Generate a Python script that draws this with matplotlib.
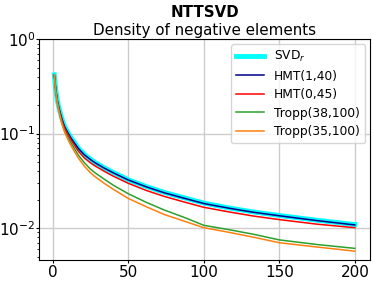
import numpy as np
import matplotlib
matplotlib.use("Agg")
import matplotlib.pyplot as plt

# values at these x positions
x = [1, 2, 3, 4, 5, 6, 7, 8, 10, 12, 14, 17, 21, 25, 28, 34, 40, 50, 62,
     74, 88, 100, 117, 133, 150, 175, 200]

svd_r = [0.42, 0.29, 0.225, 0.19, 0.165, 0.145, 0.13, 0.118, 0.103, 0.091,
         0.082, 0.070, 0.060, 0.0535, 0.0495, 0.0435, 0.0388, 0.0325, 0.0275,
         0.0238, 0.0207, 0.0184, 0.0163, 0.0148, 0.0136, 0.0121, 0.0109]
hmt_1_40 = [0.42, 0.29, 0.224, 0.189, 0.164, 0.144, 0.129, 0.117, 0.102,
            0.090, 0.081, 0.0695, 0.0595, 0.0531, 0.0491, 0.0432, 0.0385,
            0.0323, 0.0273, 0.0236, 0.0205, 0.0182, 0.0162, 0.0147, 0.0135,
            0.0120, 0.0108]
hmt_0_45 = [0.42, 0.288, 0.222, 0.186, 0.16, 0.140, 0.125, 0.113, 0.098,
            0.086, 0.077, 0.065, 0.055, 0.049, 0.0455, 0.040, 0.0355,
            0.0298, 0.0250, 0.0216, 0.0187, 0.0166, 0.0148, 0.0134, 0.0123,
            0.0110, 0.0101]
tropp_38_100 = [0.42, 0.28, 0.214, 0.178, 0.152, 0.132, 0.117, 0.106, 0.091,
                0.080, 0.071, 0.059, 0.049, 0.042, 0.0385, 0.033, 0.0285,
                0.0231, 0.0187, 0.0155, 0.0128, 0.0107, 0.0096, 0.0086,
                0.0075, 0.0067, 0.0061]
tropp_35_100 = [0.42, 0.275, 0.21, 0.174, 0.148, 0.128, 0.113, 0.102, 0.087,
                0.075, 0.066, 0.055, 0.045, 0.0385, 0.035, 0.0298, 0.0258,
                0.0206, 0.0168, 0.0139, 0.0117, 0.0101, 0.0090, 0.0080,
                0.0070, 0.0063, 0.0057]

fig = plt.figure(figsize=(3.74, 2.86), dpi=100)
ax = fig.add_axes([0.105, 0.091, 0.884, 0.772])

ax.semilogy(x, svd_r, color='cyan', lw=3.5, label='SVD$_r$')
ax.semilogy(x, hmt_1_40, color='darkblue', lw=1.1, label='HMT(1,40)')
ax.semilogy(x, hmt_0_45, color='red', lw=1.1, label='HMT(0,45)')
ax.semilogy(x, tropp_38_100, color='tab:green', lw=1.1, label='Tropp(38,100)')
ax.semilogy(x, tropp_35_100, color='tab:orange', lw=1.1, label='Tropp(35,100)')

ax.set_ylim(top=1)
ax.grid(True, which='major', color='#cccccc', lw=1.0)
ax.tick_params(which='major', labelsize=11, length=2)
ax.tick_params(axis='x', which='major', pad=1.5)
ax.tick_params(axis='y', which='major', pad=0.8)
ax.tick_params(which='minor', length=1.2)
ax.set_xticks([0, 50, 100, 150, 200])

ax.set_title('Density of negative elements', fontsize=10.9, pad=3)
ax.text(0.5, 1.101, 'NTTSVD', transform=ax.transAxes, ha='center',
        va='baseline', fontsize=10.8, fontweight='bold')
ax.legend(loc='upper right', fontsize=8.8, handlelength=2.3,
          borderaxespad=0.4, labelspacing=0.45)

fig.savefig('out.png', dpi=100)
